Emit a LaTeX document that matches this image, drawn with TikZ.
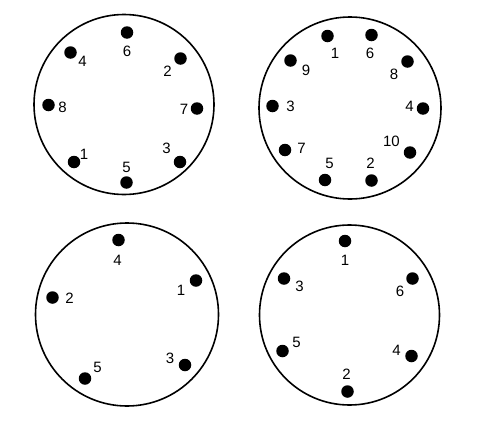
\documentclass[tikz,border=0pt]{standalone}
\usepackage{fontspec}
\setmainfont{Liberation Sans}
\begin{document}
\begin{tikzpicture}[x=1pt,y=-1pt,
  ring/.style={draw=black,line width=1.6pt,circle,inner sep=0pt},
  pin/.style={fill=black,circle,inner sep=0pt,minimum size=12.5pt},
  lbl/.style={inner sep=0pt,font=\fontsize{15}{15}\selectfont}]
\useasboundingbox (0,0) rectangle (480,442);
% top-left
\node[ring,minimum size=180pt] (c1) at (124,104.5) {};
\node[pin] (a6) at (127,32.5) {};   \node[lbl] (la6) at (127,51.5) {6};
\node[pin] (a4) at (70.5,52.5) {};  \node[lbl] (la4) at (82.5,61.5) {4};
\node[pin] (a2) at (180.5,58.5) {}; \node[lbl] (la2) at (167.5,71.5) {2};
\node[pin] (a8) at (48.5,105) {};   \node[lbl] (la8) at (62.5,107) {8};
\node[pin] (a7) at (197,108.5) {};  \node[lbl] (la7) at (184,109) {7};
\node[pin] (a1) at (74,162) {};     \node[lbl] (la1) at (84,154) {1};
\node[pin] (a3) at (180,162) {};    \node[lbl] (la3) at (166.5,148.5) {3};
\node[pin] (a5) at (126.5,182.5) {};\node[lbl] (la5) at (126.5,167.5) {5};
% top-right
\node[ring,minimum size=182pt] (c2) at (350,108) {};
\node[pin] (b1) at (327.5,36) {};   \node[lbl] (lb1) at (335,53.5) {1};
\node[pin] (b6) at (371.5,35) {};   \node[lbl] (lb6) at (370,53.5) {6};
\node[pin] (b9) at (290.5,60.5) {}; \node[lbl] (lb9) at (306,70) {9};
\node[pin] (b8) at (407.5,61.5) {}; \node[lbl] (lb8) at (394,74) {8};
\node[pin] (b3) at (272.5,106) {};  \node[lbl] (lb3) at (290.5,106.5) {3};
\node[pin] (b4) at (423,108.5) {};  \node[lbl] (lb4) at (409.5,106.5) {4};
\node[pin] (b7) at (285,150) {};    \node[lbl] (lb7) at (301.5,148.5) {7};
\node[pin] (b10) at (410,152.5) {}; \node[lbl] (lb10) at (391.5,141.5) {10};
\node[pin] (b5) at (325,180) {};    \node[lbl] (lb5) at (329.5,163.5) {5};
\node[pin] (b2) at (371.5,180.5) {};\node[lbl] (lb2) at (370.5,163.5) {2};
% bottom-left
\node[ring,minimum size=183pt] (c3) at (127,314.5) {};
\node[pin] (d4) at (118.5,240) {};  \node[lbl] (ld4) at (117.5,260) {4};
\node[pin] (d1) at (196,280.5) {};  \node[lbl] (ld1) at (181,290) {1};
\node[pin] (d2) at (52.5,297.5) {}; \node[lbl] (ld2) at (69.5,298.5) {2};
\node[pin] (d3) at (185,365) {};    \node[lbl] (ld3) at (170,358.5) {3};
\node[pin] (d5) at (85,378.5) {};   \node[lbl] (ld5) at (97.5,367.5) {5};
% bottom-right
\node[ring,minimum size=180pt] (c4) at (349.5,315) {};
\node[pin] (e1) at (345,241) {};    \node[lbl] (le1) at (345,260.5) {1};
\node[pin] (e3) at (284,278.5) {};  \node[lbl] (le3) at (299.5,286) {3};
\node[pin] (e6) at (412.5,278.5) {};\node[lbl] (le6) at (400,291.5) {6};
\node[pin] (e5) at (282.5,351) {};  \node[lbl] (le5) at (296.5,342.5) {5};
\node[pin] (e4) at (411.5,356) {};  \node[lbl] (le4) at (396.5,350) {4};
\node[pin] (e2) at (347.5,391.5) {};\node[lbl] (le2) at (346.5,374) {2};
\end{tikzpicture}
\end{document}
